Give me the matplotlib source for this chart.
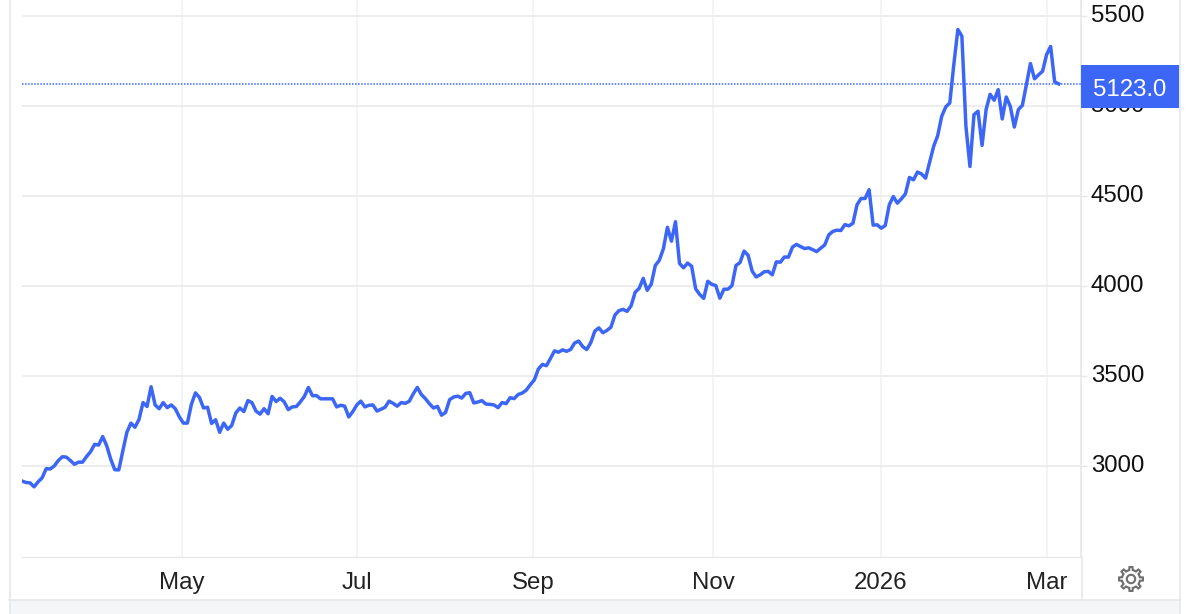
"""Price line chart with a right-hand axis and a last-value flag."""

import matplotlib

matplotlib.use("Agg")
import matplotlib.pyplot as plt
import numpy as np
from matplotlib.patches import PathPatch, Rectangle
from matplotlib.path import Path
from matplotlib.transforms import IdentityTransform, ScaledTranslation

# One value per trading day
values_early = [
    2916, 2908, 2906, 2884, 2912, 2934, 2985, 2983, 3000, 3030, 3051, 3049,
    3030, 3009, 3021, 3021, 3052, 3079, 3120, 3116, 3163, 3112, 3037, 2979,
    2978, 3084, 3187, 3238, 3215, 3258, 3352, 3330, 3440, 3339, 3318, 3352,
    3324, 3339, 3318, 3273, 3238, 3238, 3343, 3406, 3380, 3322, 3326, 3236,
    3257, 3187, 3238, 3204, 3225, 3294, 3322, 3302, 3363, 3352, 3305, 3288,
    3318, 3290, 3386, 3358, 3376, 3356, 3313, 3328, 3330, 3356, 3386, 3436,
    3390, 3391, 3373, 3373, 3373, 3373, 3328, 3337, 3332, 3272, 3302, 3339,
    3360, 3328, 3337, 3339, 3305, 3315, 3326, 3360, 3348, 3332,
]
values_middle = [
    3352, 3348, 3359, 3401, 3436, 3397, 3374, 3346, 3322, 3331, 3282, 3297,
    3368, 3383, 3388, 3377, 3403, 3407, 3350, 3355, 3363, 3344, 3342, 3339,
    3324, 3352, 3346, 3379, 3374, 3397, 3405, 3421, 3451, 3478, 3538, 3564,
    3557, 3597, 3639, 3632, 3645, 3637, 3647, 3683, 3694, 3663, 3647, 3685,
    3749, 3767, 3740, 3753, 3771, 3839, 3863, 3870, 3859, 3890, 3965, 3987,
    4042, 3976, 4011, 4114, 4143, 4207, 4326, 4249, 4357, 4125, 4101, 4127,
    4110, 3984, 3953, 3931, 4026, 4009, 4002, 3932, 3982, 3982, 4002, 4114,
    4130, 4194, 4171, 4083, 4050, 4062, 4079, 4081, 4062, 4134, 4132, 4161,
    4160, 4216, 4231,
]
values_late = [
    4219, 4208, 4212, 4202, 4191, 4210, 4228, 4284, 4303, 4310, 4308, 4341,
    4334, 4349, 4451, 4486, 4486, 4535, 4338, 4340, 4321, 4336, 4451, 4497,
    4460, 4484, 4512, 4603, 4590, 4633, 4622, 4599, 4687, 4776, 4835, 4943,
    4995, 5017, 5230, 5425, 5388, 4887, 4664, 4952, 4971, 4781, 4980, 5065,
    5032, 5091, 4928, 5050, 4998, 4883, 4980, 5004, 5119, 5236, 5151, 5173,
    5193, 5286, 5331, 5134, 5123,
]
values = values_early + values_middle + values_late
last_value = 5123.0

month_labels = ["May", "Jul", "Sep", "Nov", "2026", "Mar"]
month_positions = [39.66, 83.04, 126.67, 171.29, 212.93, 254.09]
price_ticks = [3000, 3500, 4000, 4500, 5000, 5500]

BLUE = "#3b66f6"
GRID_H = "#e8e8ea"
GRID_V = "#eef2f6"
EDGE = "#e6e8ec"
W, H = 1200, 614

plt.rcParams["font.family"] = ["Liberation Sans", "DejaVu Sans"]
fig = plt.figure(figsize=(W / 100, H / 100), dpi=100)

# Axes spans pixels x 22-1081, y 0-557
ax = fig.add_axes((22 / W, 1 - 557 / H, 1059 / W, 557 / H))
x = np.arange(len(values))
ax.set_xlim(0, 1059 / ((1058.7 - 22) / (len(values) - 1)))
ax.set_ylim(2494, 5589)

for spine in ["top", "left"]:
    ax.spines[spine].set_visible(False)
ax.spines["bottom"].set_color(GRID_H)
ax.spines["bottom"].set_linewidth(1.0)
ax.spines["right"].set_color(EDGE)
ax.spines["right"].set_linewidth(1.2)

ax.set_axisbelow(True)
ax.yaxis.tick_right()
ax.set_yticks(price_ticks)
ax.set_xticks(month_positions)
ax.set_xticklabels(month_labels)
ax.grid(axis="y", color=GRID_H, linewidth=1.1)
ax.grid(axis="x", color=GRID_V, linewidth=1.1)
ax.tick_params(axis="y", length=4, width=1, color=GRID_H, pad=3, labelsize=17.3, labelcolor="#111111")
ax.tick_params(axis="x", length=0, pad=11, labelsize=17.3, labelcolor="#222222")

# The price labels sit a little above their grid lines
lift = ScaledTranslation(0, 2.5 / 100, fig.dpi_scale_trans)
for label in ax.get_yticklabels():
    label.set_transform(label.get_transform() + lift)

ax.axhline(last_value, color=BLUE, linewidth=1.1, linestyle=(0, (1, 1)), zorder=3)
ax.plot(x, values, color=BLUE, linewidth=2.5, solid_joinstyle="round", zorder=4)

# Last value flag sits over the 5000 label
flag_x = 1.0
flag_w = 98 / 1059
ax.add_patch(
    Rectangle(
        (flag_x, last_value - 133),
        flag_w,
        240,
        transform=ax.get_yaxis_transform(),
        facecolor=BLUE,
        edgecolor="none",
        clip_on=False,
        zorder=10,
    )
)
ax.text(
    flag_x + flag_w / 2,
    last_value - 33,
    f"{last_value:.1f}",
    transform=ax.get_yaxis_transform(),
    color="white",
    fontsize=17.3,
    ha="center",
    va="center",
    clip_on=False,
    zorder=11,
)

# Frame around the widget
fig.add_artist(Rectangle((9 / W, 0), 1171 / W, 14 / H, facecolor="#f5f6f8", edgecolor="none", zorder=-1))
fig.add_artist(plt.Line2D([9.5 / W, 9.5 / W], [0, 1], color=EDGE, linewidth=1.2))
fig.add_artist(plt.Line2D([1180 / W, 1180 / W], [0, 1], color=EDGE, linewidth=1.2))
fig.add_artist(plt.Line2D([9 / W, 1180 / W], [14 / H, 14 / H], color=EDGE, linewidth=1.2))
fig.add_artist(plt.Line2D([1082 / W, 1082 / W], [14 / H, 57 / H], color=EDGE, linewidth=1.2))

# Settings gear, outline only
angles = np.linspace(0, 2 * np.pi, 97)[:-1]
teeth = np.where(np.cos(8 * angles) > 0.1, 12.0, 9.0)
gear_x = 1131 + teeth * np.cos(angles)
gear_y = H - 579 + teeth * np.sin(angles)
gear_path = Path(np.column_stack([gear_x, gear_y]).tolist() + [[gear_x[0], gear_y[0]]], closed=True)
fig.add_artist(PathPatch(gear_path, transform=IdentityTransform(), facecolor="none", edgecolor="#6f6f6f", linewidth=1.5))
fig.add_artist(plt.Circle((1131, H - 579), 4.2, transform=IdentityTransform(), facecolor="none", edgecolor="#6f6f6f", linewidth=1.5))

fig.savefig("out.png", dpi=100)
